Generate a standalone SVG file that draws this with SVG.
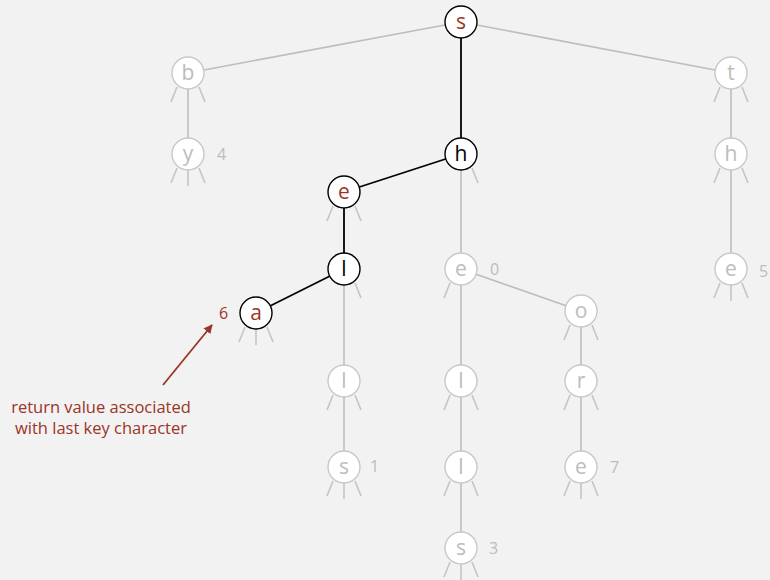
<svg xmlns="http://www.w3.org/2000/svg" width="770" height="580" viewBox="0 0 770 580">
  <defs>
    <style>
      .bg { fill: #f2f2f2; }
      .edge { stroke: #bdbdbd; stroke-width: 1.6; fill: none; }
      .edge.path { stroke: #000; stroke-width: 1.8; }
      .stub { stroke: #c4c4c4; stroke-width: 1.6; fill: none; }
      .node circle { fill: #fff; stroke: #c8c8c8; stroke-width: 1.4; }
      .node.on circle { stroke: #000; stroke-width: 1.4; }
      .node text { font-family: "Open Sans", "Noto Sans", sans-serif; font-size: 21px; fill: #bcbcbc; text-anchor: middle; dominant-baseline: central; }
      .node.on text { fill: #000; }
      .node.on text.red { fill: #9b3526; }
      .val { font-family: "Open Sans", "Noto Sans", sans-serif; font-size: 16px; fill: #bcbcbc; dominant-baseline: central; }
      .val.red { fill: #9b3526; }
      .note { font-family: "Open Sans", "Noto Sans", sans-serif; font-size: 16.5px; fill: #9b3526; text-anchor: middle; }
    </style>
    <!-- null-link stubs, drawn relative to a node centre -->
    <path id="stubL" class="stub" d="M-11,14 L-17,29"/>
    <path id="stubM" class="stub" d="M0,16 L0,32"/>
    <path id="stubR" class="stub" d="M11,14 L17,29"/>
    <marker id="arrow" viewBox="0 0 10 10" refX="9" refY="5" markerWidth="9" markerHeight="9" markerUnits="userSpaceOnUse" orient="auto">
      <path d="M0,0 L10,5 L0,10 z" fill="#9b3526"/>
    </marker>
  </defs>

  <rect class="bg" x="0" y="0" width="770" height="580"/>

  <g id="connectors">
    <line class="edge" x1="461" y1="22" x2="188" y2="73"/>
    <line class="edge" x1="461" y1="22" x2="731" y2="73"/>
    <line class="edge path" x1="461" y1="22" x2="461" y2="154"/>
    <line class="edge" x1="188" y1="73" x2="188" y2="154"/>
    <line class="edge" x1="731" y1="73" x2="731" y2="154"/>
    <line class="edge" x1="731" y1="154" x2="731" y2="269"/>
    <line class="edge path" x1="461" y1="154" x2="344" y2="192"/>
    <line class="edge" x1="461" y1="154" x2="461" y2="269"/>
    <line class="edge path" x1="344" y1="192" x2="344" y2="269"/>
    <line class="edge path" x1="344" y1="269" x2="256" y2="313"/>
    <line class="edge" x1="344" y1="269" x2="344" y2="381"/>
    <line class="edge" x1="344" y1="381" x2="344" y2="467"/>
    <line class="edge" x1="461" y1="269" x2="581" y2="311"/>
    <line class="edge" x1="461" y1="269" x2="461" y2="381"/>
    <line class="edge" x1="461" y1="381" x2="461" y2="467"/>
    <line class="edge" x1="461" y1="467" x2="461" y2="548"/>
    <line class="edge" x1="581" y1="311" x2="581" y2="381"/>
    <line class="edge" x1="581" y1="381" x2="581" y2="467"/>
    <line stroke="#9b3526" stroke-width="1.8" x1="163" y1="385" x2="212" y2="325" marker-end="url(#arrow)"/>
  </g>

  <g id="stubs">
    <use href="#stubL" x="188" y="73"/><use href="#stubR" x="188" y="73"/>
    <use href="#stubL" x="188" y="154"/><use href="#stubM" x="188" y="154"/><use href="#stubR" x="188" y="154"/>
    <use href="#stubL" x="731" y="73"/><use href="#stubR" x="731" y="73"/>
    <use href="#stubL" x="731" y="154"/><use href="#stubR" x="731" y="154"/>
    <use href="#stubL" x="731" y="269"/><use href="#stubM" x="731" y="269"/><use href="#stubR" x="731" y="269"/>
    <use href="#stubR" x="461" y="154"/>
    <use href="#stubL" x="344" y="192"/><use href="#stubR" x="344" y="192"/>
    <use href="#stubR" x="344" y="269"/>
    <use href="#stubL" x="256" y="313"/><use href="#stubM" x="256" y="313"/><use href="#stubR" x="256" y="313"/>
    <use href="#stubL" x="461" y="269"/>
    <use href="#stubL" x="581" y="311"/><use href="#stubR" x="581" y="311"/>
    <use href="#stubL" x="581" y="381"/><use href="#stubR" x="581" y="381"/>
    <use href="#stubL" x="581" y="467"/><use href="#stubM" x="581" y="467"/><use href="#stubR" x="581" y="467"/>
    <use href="#stubL" x="344" y="381"/><use href="#stubR" x="344" y="381"/>
    <use href="#stubL" x="344" y="467"/><use href="#stubM" x="344" y="467"/><use href="#stubR" x="344" y="467"/>
    <use href="#stubL" x="461" y="381"/><use href="#stubR" x="461" y="381"/>
    <use href="#stubL" x="461" y="467"/><use href="#stubR" x="461" y="467"/>
    <use href="#stubL" x="461" y="548"/><use href="#stubM" x="461" y="548"/><use href="#stubR" x="461" y="548"/>
  </g>

  <g id="n-s" class="node on"><circle cx="461" cy="22" r="16"/><text class="red" x="461" y="21">s</text></g>
  <g id="n-b" class="node"><circle cx="188" cy="73" r="16"/><text x="188" y="72">b</text></g>
  <g id="n-t" class="node"><circle cx="731" cy="73" r="16"/><text x="731" y="72">t</text></g>
  <g id="n-y" class="node"><circle cx="188" cy="154" r="16"/><text x="188" y="153">y</text></g>
  <g id="n-h" class="node on"><circle cx="461" cy="154" r="16"/><text x="461" y="153">h</text></g>
  <g id="n-th" class="node"><circle cx="731" cy="154" r="16"/><text x="731" y="153">h</text></g>
  <g id="n-he" class="node on"><circle cx="344" cy="192" r="16"/><text class="red" x="344" y="191">e</text></g>
  <g id="n-hel" class="node on"><circle cx="344" cy="269" r="16"/><text x="344" y="268">l</text></g>
  <g id="n-she" class="node"><circle cx="461" cy="269" r="16"/><text x="461" y="268">e</text></g>
  <g id="n-the" class="node"><circle cx="731" cy="269" r="16"/><text x="731" y="268">e</text></g>
  <g id="n-shela" class="node on"><circle cx="256" cy="313" r="16"/><text class="red" x="256" y="312">a</text></g>
  <g id="n-sho" class="node"><circle cx="581" cy="311" r="16"/><text x="581" y="310">o</text></g>
  <g id="n-shell" class="node"><circle cx="344" cy="381" r="16"/><text x="344" y="380">l</text></g>
  <g id="n-shel2" class="node"><circle cx="461" cy="381" r="16"/><text x="461" y="380">l</text></g>
  <g id="n-shor" class="node"><circle cx="581" cy="381" r="16"/><text x="581" y="380">r</text></g>
  <g id="n-shells" class="node"><circle cx="344" cy="467" r="16"/><text x="344" y="466">s</text></g>
  <g id="n-shell2" class="node"><circle cx="461" cy="467" r="16"/><text x="461" y="466">l</text></g>
  <g id="n-shore" class="node"><circle cx="581" cy="467" r="16"/><text x="581" y="466">e</text></g>
  <g id="n-shells2" class="node"><circle cx="461" cy="548" r="16"/><text x="461" y="547">s</text></g>

  <g id="values">
    <text class="val" x="217" y="154">4</text>
    <text class="val" x="490" y="269">0</text>
    <text class="val" x="759" y="271">5</text>
    <text class="val" x="370" y="466">1</text>
    <text class="val" x="610" y="467">7</text>
    <text class="val" x="489" y="548">3</text>
    <text class="val red" x="219" y="313">6</text>
  </g>

  <g id="note">
    <text class="note" x="101" y="413">return value associated</text>
    <text class="note" x="101" y="434">with last key character</text>
  </g>
</svg>
